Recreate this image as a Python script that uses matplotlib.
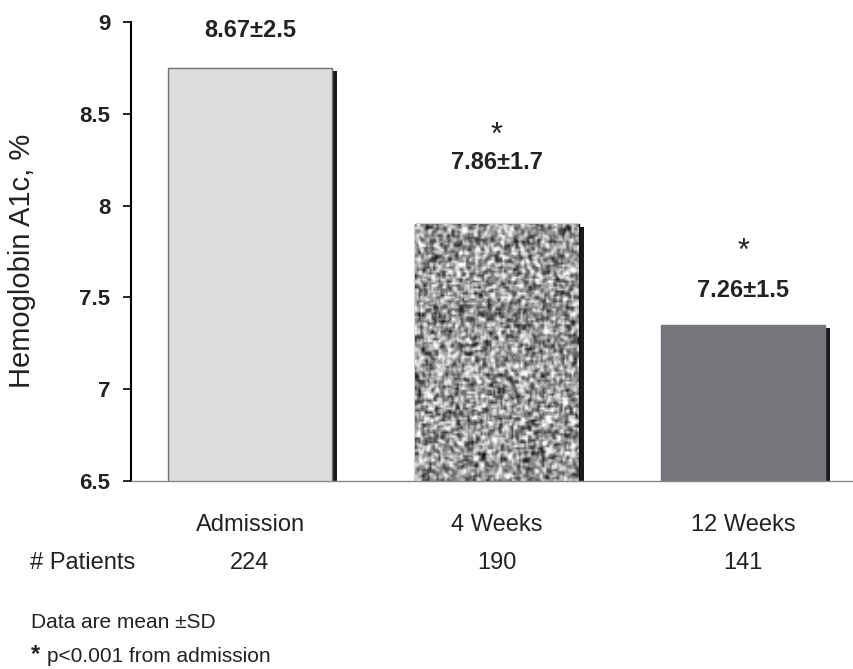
import matplotlib
matplotlib.use("Agg")
import matplotlib.pyplot as plt
import matplotlib.patheffects as pe
import matplotlib.transforms as mtransforms
import numpy as np

plt.rcParams['font.family'] = ['Liberation Sans', 'DejaVu Sans']

# data
categories = ['Admission', '4 Weeks', '12 Weeks']
bar_heights = [8.75, 7.9, 7.35]
mean_labels = ['8.67\u00b12.5', '7.86\u00b11.7', '7.26\u00b11.5']
significant = [False, True, True]
patients = [224, 190, 141]
yticks = [6.5, 7, 7.5, 8, 8.5, 9]

# styling (pixel offsets above each bar for label / star)
label_offsets = [37, 61, 34]
star_offsets = [94, 79]
face_colors = ['#dcdddf', '#b5b5b5', '#75767a']
edge_colors = ['#707070', '#111111', '#75767a']

fig = plt.figure(figsize=(8.54, 6.69), dpi=100)
ax = fig.add_axes([131/854, 1 - 481/669, 1 - 131/854, (481 - 22)/669])

x = np.arange(len(categories))
shadow = [pe.SimplePatchShadow(offset=(3.6, -2.2), shadow_rgbFace='#1c1a1b', alpha=1.0), pe.Normal()]
bars = ax.bar(x, bar_heights, width=0.665, color=face_colors, edgecolor=edge_colors,
              linewidth=1.0, zorder=2)
for b in bars:
    b.set_path_effects(shadow)

# speckled texture for the 4 weeks bar (just a fill pattern)
rng = np.random.default_rng(7)
noise = rng.random((130, 90))
smooth = noise.copy()
for sh in [(1, 0), (-1, 0), (0, 1), (0, -1)]:
    smooth += 0.5 * np.roll(noise, sh, (0, 1))
m, s = smooth.mean(), smooth.std()
b = bars[1]
img = ax.imshow(smooth, cmap='gray', vmin=m - 3.0 * s, vmax=m + 2.0 * s, aspect='auto',
                extent=[b.get_x(), b.get_x() + b.get_width(), 6.5, b.get_height()],
                zorder=2.5, interpolation='bilinear')
img.set_clip_path(b)

ax.set_xlim(-0.483, 2.45)
ax.set_ylim(6.5, 9)
ax.set_yticks(yticks)
ax.set_yticklabels(['6.5', '7', '7.5', '8', '8.5', '9'], fontsize=16, fontweight='bold',
                   color='#222222')
ax.tick_params(axis='y', length=6, width=1.2, pad=9, direction='out')
ax.tick_params(axis='x', length=0, pad=24)
ax.set_xticks(x)
ax.set_xticklabels(categories, fontsize=17, color='#222222')

ax.spines['top'].set_visible(False)
ax.spines['right'].set_visible(False)
ax.spines['left'].set_linewidth(1.5)
ax.spines['bottom'].set_color('#888888')
ax.spines['bottom'].set_linewidth(1.0)

ax.set_ylabel('Hemoglobin A1c, %', fontsize=21, color='#222222')
ax.yaxis.set_label_coords(-(131 - 36) / (854 - 131), 0.48)

si = 0
for i, b in enumerate(bars):
    ax.annotate(mean_labels[i], (b.get_x() + b.get_width()/2, b.get_height()),
                xytext=(0, label_offsets[i] * 0.72), textcoords='offset points',
                ha='center', va='center', fontsize=17, fontweight='bold', color='#222222')
    if significant[i]:
        ax.annotate('*', (b.get_x() + b.get_width()/2, b.get_height()),
                    xytext=(0, star_offsets[si] * 0.72 - 4), textcoords='offset points',
                    ha='center', va='center', fontsize=22, color='#222222')
        si += 1

# patient counts row
trans = mtransforms.blended_transform_factory(ax.transData, fig.transFigure)
fig.text(30/854, 1 - 563/669, '# Patients', fontsize=17, va='center', color='#222222')
for xi, n in zip(x, patients):
    ax.text(xi, 1 - 563/669, str(n), transform=trans, ha='center', va='center',
            fontsize=17, color='#222222')

fig.text(31/854, 1 - 623/669, 'Data are mean \u00b1SD', fontsize=15, va='center', color='#222222')
fig.text(31/854, 1 - 655/669, '*', fontsize=17, fontweight='bold', va='center', color='#222222')
fig.text(47/854, 1 - 657/669, 'p<0.001 from admission', fontsize=15, va='center', color='#222222')

fig.savefig('out.png', dpi=100)
